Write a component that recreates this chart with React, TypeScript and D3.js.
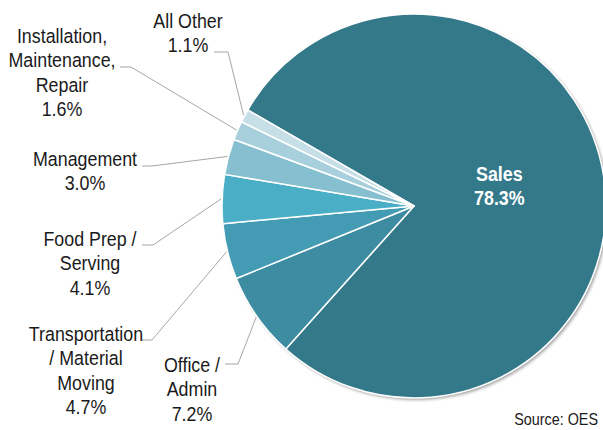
import React from "react";
import * as d3 from "d3";

const categories = [
  "Sales",
  "Office / Admin",
  "Transportation / Material Moving",
  "Food Prep / Serving",
  "Management",
  "Installation, Maintenance, Repair",
  "All Other",
];
const shares = [78.3, 7.2, 4.7, 4.1, 3.0, 1.6, 1.1];
const labelLines = [
  ["Sales", "78.3%"],
  ["Office /", "Admin", "7.2%"],
  ["Transportation", "/ Material", "Moving", "4.7%"],
  ["Food Prep /", "Serving", "4.1%"],
  ["Management", "3.0%"],
  ["Installation,", "Maintenance,", "Repair", "1.6%"],
  ["All Other", "1.1%"],
];
const sourceText = "Source: OES";

const colors = ["#34798A", "#3D8CA1", "#449CB4", "#4BAEC7", "#86BFD0", "#A8D0DC", "#C6DFE7"];

// label layout: center x, first baseline y, leader start (x,y) and elbow x
const labelLayout = [
  null,
  { cx: 192, y0: 372, lx: 225, ly: 364, ex: 238 },
  { cx: 86, y0: 341, lx: 142, ly: 340, ex: 152 },
  { cx: 90, y0: 246, lx: 142, ly: 245, ex: 153 },
  { cx: 85, y0: 166, lx: 142, ly: 166, ex: 152 },
  { cx: 62, y0: 43, lx: 120, ly: 67, ex: 131 },
  { cx: 188, y0: 28, lx: 214, ly: 52, ex: 228 },
];

const W = 603;
const H = 430;
const cx = 414;
const cy = 206;
const R = 192;
const LH = 24.3;
const SX = 0.87;

export default function App() {
  const data = categories.map((c, i) => ({ c, v: shares[i], i }));
  const startA = (-60 * Math.PI) / 180;
  const pie = d3
    .pie<any>()
    .sort(null)
    .value((d) => d.v)
    .startAngle(startA)
    .endAngle(startA + 2 * Math.PI);
  const arcs = pie(data);
  const arcGen = d3.arc<any>().innerRadius(0).outerRadius(R);
  const pt = (a: number, r: number) => [cx + r * Math.sin(a), cy - r * Math.cos(a)];
  const font = "'Liberation Sans', Arial, sans-serif";

  return (
    <svg
      width={W}
      height={H}
      style={{ position: "absolute", left: 0, top: 0, background: "#fff" }}
    >
      <defs>
        <filter id="sh" x="-10%" y="-10%" width="130%" height="130%">
          <feDropShadow dx="2" dy="2" stdDeviation="1.8" floodColor="#000" floodOpacity="0.35" />
        </filter>
      </defs>
      <g filter="url(#sh)">
        <circle cx={cx} cy={cy} r={R} fill="#fff" />
      </g>
      <g transform={`translate(${cx},${cy})`}>
        {arcs.map((a, i) => (
          <path key={i} d={arcGen(a) as string} fill={colors[i]} stroke="#fff" strokeWidth={1.5} strokeLinejoin="round" />
        ))}
      </g>
      {/* leader lines */}
      {arcs.map((a, i) => {
        const L = labelLayout[i];
        if (!L) return null;
        const mid = (a.startAngle + a.endAngle) / 2;
        const [px, py] = pt(mid, R + 1);
        return (
          <polyline
            key={"l" + i}
            points={`${L.lx},${L.ly} ${L.ex},${L.ly} ${px},${py}`}
            fill="none"
            stroke="#A6A6A6"
            strokeWidth={1}
          />
        );
      })}
      {/* outside labels */}
      {labelLayout.map((L, i) => {
        if (!L) return null;
        return labelLines[i].map((t, j) => (
          <text
            key={"t" + i + "_" + j}
            transform={`translate(${L.cx},${L.y0 + j * LH}) scale(${SX},1)`}
            textAnchor="middle"
            fontFamily={font}
            fontSize={20.5}
            fill="#1a1a1a"
          >
            {t}
          </text>
        ));
      })}
      {/* Sales label inside */}
      {(() => {
        const a = arcs[0];
        const mid = (a.startAngle + a.endAngle) / 2;
        const [px, py] = pt(mid, R * 0.45);
        return labelLines[0].map((t, j) => (
          <text
            key={"s" + j}
            transform={`translate(${px},${py - 11 + j * 23.5}) scale(${SX},1)`}
            textAnchor="middle"
            fontFamily={font}
            fontWeight="bold"
            fontSize={20.5}
            fill="#fff"
          >
            {t}
          </text>
        ));
      })()}
      <text
        transform={`translate(598,425) scale(${SX},1)`}
        textAnchor="end"
        fontFamily={font}
        fontSize={16.5}
        fill="#1a1a1a"
      >
        {sourceText}
      </text>
    </svg>
  );
}
